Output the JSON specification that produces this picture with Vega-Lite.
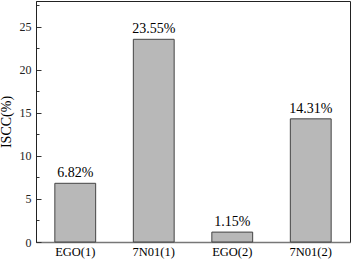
{
  "$schema": "https://vega.github.io/schema/vega-lite/v6.json",
  "width": 314,
  "height": 241,
  "autosize": {"type": "none"},
  "padding": {"left": 36, "top": 1, "right": 7, "bottom": 17},
  "background": "white",
  "config": {
    "view": {"stroke": "#222", "strokeWidth": 1},
    "font": "Liberation Serif"
  },
  "data": {
    "values": [
      {"sample": "EGO(1)", "value": 6.82, "label": "6.82%"},
      {"sample": "7N01(1)", "value": 23.55, "label": "23.55%"},
      {"sample": "EGO(2)", "value": 1.15, "label": "1.15%"},
      {"sample": "7N01(2)", "value": 14.31, "label": "14.31%"}
    ]
  },
  "encoding": {
    "x": {
      "field": "sample",
      "type": "nominal",
      "sort": null,
      "scale": {"paddingInner": 0.48, "paddingOuter": 0.24},
      "axis": {
        "title": null,
        "labelAngle": 0,
        "labelFont": "Liberation Serif",
        "labelFontSize": 12.5,
        "labelColor": "#000",
        "labelPadding": 3,
        "ticks": false,
        "domainColor": "#777",
        "domainWidth": 1.5
      }
    },
    "y": {
      "field": "value",
      "type": "quantitative",
      "scale": {"domain": [0, 28], "nice": false},
      "axis": {
        "title": "ISCC(%)",
        "titleFont": "Liberation Serif",
        "titleFontSize": 14,
        "titleFontWeight": "normal",
        "titleColor": "#000",
        "titlePadding": 6,
        "values": [0, 2.5, 5, 7.5, 10, 12.5, 15, 17.5, 20, 22.5, 25, 27.5],
        "labelExpr": "datum.value % 5 === 0 ? datum.label : ''",
        "labelFont": "Liberation Serif",
        "labelFontSize": 12,
        "labelColor": "#222",
        "labelPadding": 10,
        "tickSize": {"condition": {"test": "datum.value % 5 === 0", "value": -5}, "value": -3},
        "tickColor": "#333",
        "domainColor": "#222",
        "grid": false
      }
    }
  },
  "layer": [
    {
      "mark": {"type": "bar", "fill": "#b8b8b8", "stroke": "#444", "strokeWidth": 1}
    },
    {
      "mark": {"type": "text", "baseline": "bottom", "dy": -3, "fontSize": 14, "font": "Liberation Serif", "color": "#000"},
      "encoding": {"text": {"field": "label"}}
    }
  ]
}
